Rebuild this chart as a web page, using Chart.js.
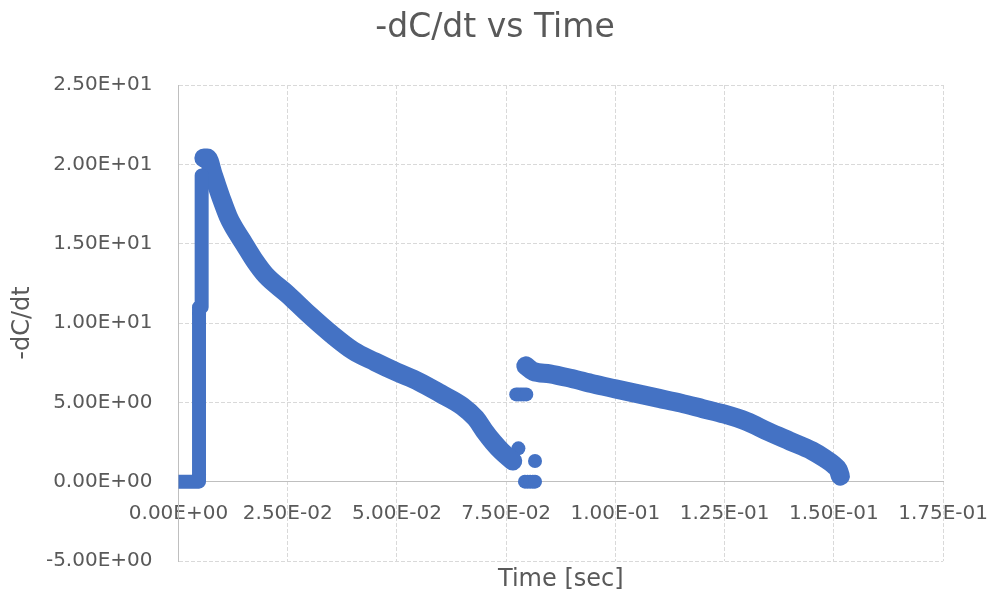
<!DOCTYPE html>
<html>
<head>
<meta charset="utf-8">
<script src="https://cdn.jsdelivr.net/npm/chart.js@4.4.0/dist/chart.umd.min.js"></script>
<style>
  body { margin: 0; background: #fff; }
</style>
</head>
<body>
<canvas id="myChart" width="990" height="601"></canvas>
<script>
// values
const riseTime = [0, 0.0024, 0.0047, 0.0047, 0.0053, 0.0053];
const riseRate = [0, 0, 0, 11.0, 11.0, 19.3];

const decay1Time = [0.0058, 0.0066, 0.008, 0.010, 0.0114, 0.0125, 0.015, 0.0175, 0.020, 0.025, 0.030, 0.035, 0.040, 0.045, 0.050, 0.055, 0.060, 0.065, 0.068, 0.070, 0.072, 0.074, 0.0765];
const decay1Rate = [20.4, 20.4, 19.3, 17.7, 16.7, 16.1, 15.0, 13.9, 13.0, 11.8, 10.5, 9.3, 8.25, 7.55, 6.9, 6.3, 5.55, 4.75, 4.0, 3.2, 2.5, 1.9, 1.3];

const decay2Time = [0.0795, 0.0812, 0.085, 0.090, 0.095, 0.100, 0.105, 0.110, 0.115, 0.120, 0.125, 0.130, 0.135, 0.140, 0.145, 0.148, 0.150, 0.151, 0.1515];
const decay2Rate = [7.3, 6.95, 6.8, 6.5, 6.15, 5.85, 5.55, 5.25, 4.95, 4.6, 4.25, 3.8, 3.15, 2.55, 1.95, 1.45, 1.05, 0.75, 0.35];

const dotTime = [0.0773, 0.0778, 0.0784, 0.0790, 0.0796, 0.0778, 0.0816, 0.0793, 0.0799, 0.0805, 0.0811, 0.0816];
const dotRate = [5.5, 5.5, 5.5, 5.5, 5.5, 2.1, 1.3, 0, 0, 0, 0, 0];

const xTicks = [0, 0.025, 0.05, 0.075, 0.1, 0.125, 0.15, 0.175];
const yTicks = [-5, 0, 5, 10, 15, 20, 25];

const blue = '#4472C4';
const grey = '#595959';

const pts = (xs, ys) => xs.map((x, i) => ({ x: x, y: ys[i] }));

// Excel style 2.50E+01
const sci = v => {
  const [m, e] = Number(v).toExponential(2).split('e');
  const sign = e[0] === '-' ? '-' : '+';
  const digits = e.replace(/[+-]/, '').padStart(2, '0');
  return m + 'E' + sign + digits;
};

const lineSet = (data, width, smooth) => ({
  data: data,
  showLine: true,
  borderColor: blue,
  backgroundColor: blue,
  borderWidth: width,
  borderCapStyle: 'round',
  borderJoinStyle: 'round',
  pointRadius: 0,
  cubicInterpolationMode: smooth ? 'monotone' : 'default',
  tension: 0
});

Chart.defaults.font.family = 'DejaVu Sans';
Chart.defaults.color = grey;

const ctx = document.getElementById('myChart').getContext('2d');
const chart = new Chart(ctx, {
  type: 'scatter',
  data: {
    datasets: [
      lineSet(pts(riseTime, riseRate), 14, false),
      lineSet(pts(decay1Time, decay1Rate), 19, true),
      lineSet(pts(decay2Time, decay2Rate), 19, true),
      {
        data: pts(dotTime, dotRate),
        showLine: false,
        pointRadius: 7,
        pointBorderWidth: 0,
        backgroundColor: blue,
        borderColor: blue
      }
    ]
  },
  options: {
    responsive: false,
    animation: false,
    events: [],
    layout: { padding: { left: 0, right: 0, top: 0, bottom: 0 } },
    plugins: {
      legend: { display: false },
      tooltip: { enabled: false },
      title: {
        display: true,
        text: '-dC/dt vs Time',
        color: grey,
        font: { size: 33, weight: 'normal' },
        padding: { top: 9, bottom: 36.4 }
      }
    },
    scales: {
      x: {
        type: 'linear',
        position: { y: 0 },
        min: xTicks[0],
        max: xTicks[xTicks.length - 1],
        afterBuildTicks: axis => { axis.ticks = xTicks.map(v => ({ value: v })); },
        ticks: {
          color: grey,
          font: { size: 20, lineHeight: 3 },
          padding: 2,
          maxRotation: 0,
          callback: v => sci(v)
        },
        grid: { color: '#d9d9d9', drawTicks: false },
        border: { display: true, color: '#bfbfbf', width: 1, dash: [4, 2] }
      },
      xt: {
        type: 'linear',
        position: 'bottom',
        display: true,
        afterFit: axis => { axis.height = 40; },
        ticks: { display: false },
        grid: { display: false },
        border: { display: false },
        title: {
          display: true,
          text: 'Time [sec]',
          color: grey,
          font: { size: 24 },
          padding: { top: 4.6, bottom: 6.6 }
        }
      },
      y: {
        type: 'linear',
        position: 'left',
        min: yTicks[0],
        max: yTicks[yTicks.length - 1],
        afterBuildTicks: axis => { axis.ticks = yTicks.map(v => ({ value: v })); },
        afterFit: axis => { axis.width = 178.5; },
        ticks: {
          color: grey,
          font: { size: 20 },
          padding: 26,
          callback: v => sci(v)
        },
        grid: { color: '#d9d9d9', drawTicks: false },
        border: { display: true, color: '#bfbfbf', width: 1, dash: [4, 2] },
        title: {
          display: true,
          text: '-dC/dt',
          color: grey,
          font: { size: 24 },
          padding: { top: 8, bottom: 0 }
        }
      }
    }
  }
});
</script>
</body>
</html>
